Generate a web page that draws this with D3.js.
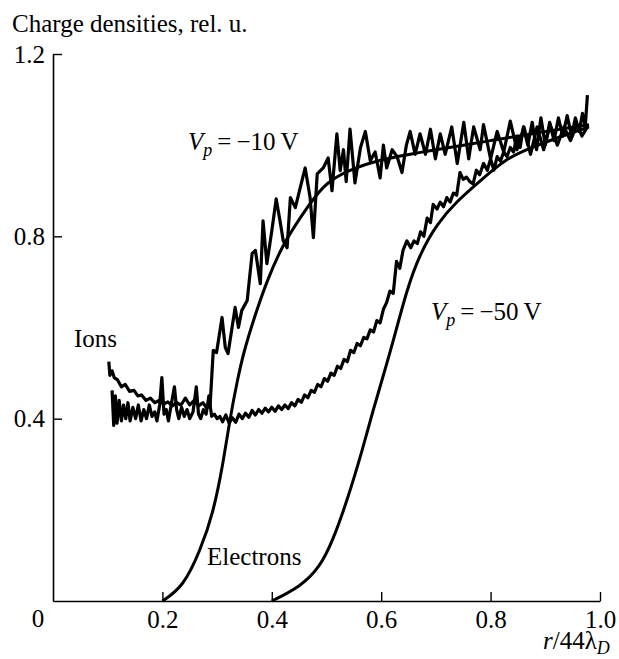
<!DOCTYPE html>
<html>
<head>
<meta charset="utf-8">
<script src="https://cdn.jsdelivr.net/npm/d3@7"></script>
<style>
  body { margin: 0; background: #fff; }
  svg text { font-family: "Liberation Serif", "Times New Roman", serif; font-size: 25px; fill: #000; }
</style>
</head>
<body>
<div id="main"></div>
<script>
// tick values
const xTicks = [0.2, 0.4, 0.6, 0.8, 1.0];
const yTicks = [0.4, 0.8, 1.2];

// ions, Vp = -10 V  [r/44λD, density]
const ions10 = [
  [0.102,0.525],[0.104,0.495],[0.108,0.505],[0.112,0.49],[0.118,0.485],[0.125,0.47],[0.132,0.475],
  [0.14,0.46],[0.148,0.462],[0.155,0.45],[0.162,0.452],[0.17,0.44],[0.178,0.445],[0.186,0.435],
  [0.194,0.44],[0.202,0.432],[0.21,0.437],[0.218,0.428],[0.226,0.435],[0.234,0.43],[0.242,0.445],
  [0.25,0.43],[0.258,0.44],[0.266,0.428],[0.274,0.435],[0.28,0.425],[0.287,0.425],
  [0.293,0.55],[0.299,0.545],[0.309,0.622],[0.315,0.556],[0.32,0.543],[0.333,0.644],[0.339,0.6],
  [0.345,0.637],[0.355,0.659],[0.364,0.762],[0.37,0.769],[0.379,0.696],[0.384,0.834],[0.391,0.74],
  [0.4,0.812],[0.408,0.882],[0.415,0.834],[0.421,0.79],[0.428,0.775],[0.434,0.885],[0.443,0.863],
  [0.452,0.907],[0.461,0.95],[0.47,0.885],[0.476,0.797],[0.483,0.937],[0.494,0.95],[0.503,0.972],
  [0.51,0.9],[0.519,1.025],[0.525,0.944],[0.531,0.99],[0.536,0.92],[0.543,1.035],[0.552,0.917],
  [0.562,0.994],[0.571,1.03],[0.58,0.966],[0.589,0.985],[0.598,0.928],[0.604,1.0],[0.61,0.95],
  [0.62,0.99],[0.629,0.975],[0.638,0.94],[0.646,1.0],[0.653,1.03],[0.662,0.98],[0.671,1.025],
  [0.681,0.98],[0.69,1.035],[0.699,0.97],[0.708,1.025],[0.717,0.98],[0.729,1.04],[0.739,0.96],
  [0.751,1.05],[0.76,0.97],[0.769,1.04],[0.781,0.99],[0.787,1.045],[0.8,0.97],[0.812,1.03],
  [0.824,0.985],[0.836,1.053],[0.848,0.99],[0.861,1.04],[0.873,0.98],[0.885,1.04],[0.897,0.99],
  [0.909,1.045],[0.922,1.0],[0.934,1.04],[0.946,1.01],[0.958,1.045],[0.967,1.02],[0.977,1.04]
];

// ions, Vp = -50 V
const ions50 = [
  [0.108,0.462],[0.111,0.385],[0.114,0.45],[0.117,0.39],[0.121,0.44],[0.125,0.395],[0.129,0.43],
  [0.133,0.4],[0.137,0.435],[0.141,0.395],[0.146,0.425],[0.151,0.4],[0.156,0.43],[0.161,0.395],
  [0.166,0.42],[0.171,0.4],[0.176,0.43],[0.181,0.405],[0.186,0.415],[0.19,0.395],[0.195,0.43],
  [0.199,0.49],[0.203,0.41],[0.207,0.42],[0.211,0.395],[0.216,0.43],[0.222,0.47],[0.226,0.42],
  [0.23,0.4],[0.235,0.425],[0.24,0.405],[0.245,0.42],[0.25,0.4],[0.256,0.415],[0.262,0.47],
  [0.266,0.41],[0.27,0.4],[0.275,0.42],[0.28,0.41],[0.285,0.45],[0.29,0.405],[0.295,0.41],[0.3,0.4],
  [0.305,0.405],[0.31,0.393],[0.316,0.408],[0.322,0.39],[0.328,0.402],[0.334,0.392],[0.34,0.41],
  [0.346,0.4],[0.352,0.412],[0.358,0.403],[0.364,0.418],[0.37,0.408],[0.376,0.42],[0.382,0.412],
  [0.388,0.423],[0.394,0.415],[0.4,0.425],[0.406,0.416],[0.412,0.428],[0.418,0.42],[0.424,0.43],
  [0.43,0.422],[0.436,0.435],[0.442,0.428],[0.448,0.442],[0.454,0.436],[0.46,0.452],[0.466,0.446],
  [0.472,0.462],[0.478,0.458],[0.484,0.475],[0.49,0.47],[0.496,0.488],[0.502,0.482],[0.508,0.5],
  [0.514,0.495],[0.52,0.515],[0.526,0.51],[0.532,0.53],[0.538,0.525],[0.544,0.55],[0.55,0.545],
  [0.556,0.565],[0.562,0.56],[0.568,0.578],[0.574,0.575],[0.58,0.595],[0.586,0.59],[0.592,0.615],
  [0.598,0.61],[0.604,0.64],[0.61,0.655],[0.616,0.68],[0.622,0.675],[0.628,0.745],[0.634,0.73],
  [0.64,0.77],[0.647,0.79],[0.654,0.775],[0.66,0.79],[0.666,0.784],[0.672,0.81],[0.678,0.8],
  [0.684,0.84],[0.69,0.83],[0.695,0.87],[0.702,0.86],[0.708,0.875],[0.714,0.865],[0.72,0.885],
  [0.726,0.875],[0.732,0.895],[0.738,0.89],[0.744,0.94],[0.75,0.925],[0.756,0.93],[0.762,0.92],
  [0.768,0.915],[0.774,0.945],[0.78,0.935],[0.787,0.96],[0.794,0.945],[0.8,0.97],[0.806,0.945],
  [0.812,0.975],[0.818,0.965],[0.824,0.985],[0.83,0.975],[0.836,0.995],[0.842,0.985],[0.848,1.02],
  [0.854,0.995],[0.86,1.04],[0.868,1.0],[0.876,1.05],[0.884,0.99],[0.892,1.06],[0.9,1.0],
  [0.908,1.05],[0.916,1.01],[0.924,1.06],[0.932,1.02],[0.94,1.065],[0.948,1.02],[0.955,1.06],
  [0.962,1.03],[0.968,1.07],[0.973,1.04],[0.977,1.11]
];

// electrons (smooth curves)
const electrons10 = [
  [0.2,0],[0.238,0.031],[0.269,0.11],[0.293,0.193],[0.311,0.302],[0.324,0.403],[0.337,0.484],
  [0.348,0.543],[0.366,0.615],[0.391,0.703],[0.421,0.784],[0.452,0.841],[0.494,0.915],
  [0.538,0.944],[0.6,0.97],[0.7,0.99],[0.8,1.01],[0.9,1.03],[0.98,1.045]
];
const electrons50 = [
  [0.4,0],[0.452,0.031],[0.488,0.074],[0.512,0.134],[0.538,0.221],[0.567,0.337],[0.585,0.418],
  [0.604,0.495],[0.622,0.57],[0.648,0.688],[0.671,0.762],[0.702,0.828],[0.739,0.878],
  [0.781,0.922],[0.83,0.972],[0.873,0.994],[0.93,1.02],[0.98,1.04]
];

const width = 619;
const height = 659;

const svg = d3.select('#main')
  .append('svg')
  .attr('width', width)
  .attr('height', height);

const x = d3.scaleLinear().domain([0, 1]).range([53, 600]);
const y = d3.scaleLinear().domain([0, 1.2]).range([601, 54]);

const xAxis = svg.append('g')
  .attr('transform', 'translate(0,' + y(0) + ')')
  .call(d3.axisBottom(x).tickValues(xTicks).tickSize(-9).tickSizeOuter(0).tickPadding(9)
    .tickFormat(d3.format('.1f')));

const yAxis = svg.append('g')
  .attr('transform', 'translate(' + x(0) + ',0)')
  .call(d3.axisLeft(y).tickValues(yTicks).tickSize(-9).tickSizeOuter(0).tickPadding(8)
    .tickFormat(d3.format('.1f')));

[xAxis, yAxis].forEach((g) => {
  g.attr('font-size', null).attr('font-family', null);
  g.select('.domain').attr('stroke', '#000').attr('stroke-width', 1.6);
  g.selectAll('.tick line').attr('stroke', '#000').attr('stroke-width', 1.4);
});

// shared origin label
svg.append('text').attr('x', 38).attr('y', 627).attr('text-anchor', 'middle').text('0');

svg.append('text').attr('x', 12).attr('y', 32).text('Charge densities, rel. u.');

const xl = svg.append('text').attr('x', 543).attr('y', 649);
xl.append('tspan').style('font-style', 'italic').text('r');
xl.append('tspan').text('/44\u03bb');
xl.append('tspan').style('font-style', 'italic').style('font-size', '18px').attr('dy', 5).text('D');

const line = d3.line().x((d) => x(d[0])).y((d) => y(d[1]));
const smooth = d3.line().x((d) => x(d[0])).y((d) => y(d[1])).curve(d3.curveBasis);

[ions10, ions50].forEach((s) => {
  svg.append('path').datum(s)
    .attr('d', line)
    .attr('fill', 'none').attr('stroke', '#000').attr('stroke-width', 3.2)
    .attr('stroke-linejoin', 'round');
});

[electrons10, electrons50].forEach((s) => {
  svg.append('path').datum(s)
    .attr('d', smooth)
    .attr('fill', 'none').attr('stroke', '#000').attr('stroke-width', 3);
});

function vpLabel(px, py, volts) {
  const t = svg.append('text').attr('x', px).attr('y', py);
  t.append('tspan').style('font-style', 'italic').text('V');
  t.append('tspan').style('font-style', 'italic').style('font-size', '18px').attr('dy', 6).text('p');
  t.append('tspan').attr('dy', -6).text('\u2009=\u2009\u2212' + volts + '\u2009V');
}
vpLabel(188, 150, 10);
vpLabel(431, 320, 50);

svg.append('text').attr('x', 74).attr('y', 347).text('Ions');
svg.append('text').attr('x', 207).attr('y', 565).text('Electrons');
</script>
</body>
</html>
